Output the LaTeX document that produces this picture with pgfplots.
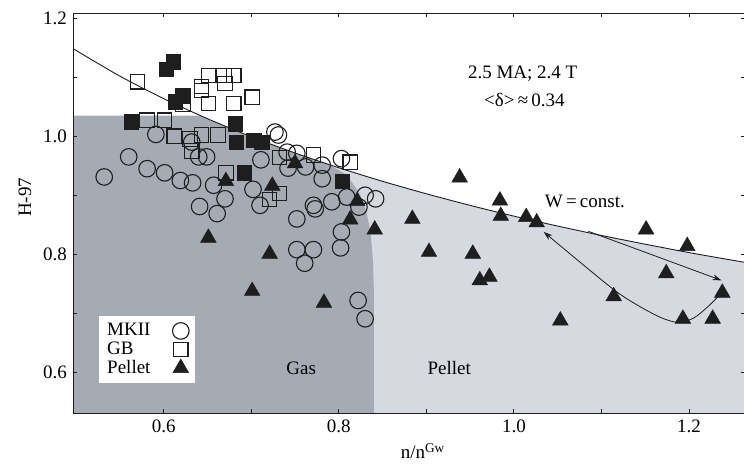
\documentclass[border=0pt]{standalone}
\usepackage{pgfplots}
\pgfplotsset{compat=1.18}
\usepackage{fontspec}
\setmainfont{Liberation Serif}
\usetikzlibrary{arrows.meta}
\definecolor{darkreg}{RGB}{166,171,179}
\definecolor{lightreg}{RGB}{214,217,224}
\definecolor{ink}{RGB}{30,30,30}
\begin{document}
\fontsize{19}{22}\selectfont
\begin{tikzpicture}
\useasboundingbox (-73.3pt,-54.7pt) rectangle (670.7pt,413.3pt);
\begin{axis}[
  scale only axis, width=672pt, height=400pt,
  xmin=0.4967, xmax=1.2643, ymin=0.531, ymax=1.208,
  axis on top,
  xtick={0.6,0.8,1.0,1.2}, minor xtick={0.7,0.9,1.1},
  ytick={0.6,0.8,1.0,1.2}, minor ytick={0.7,0.9,1.1},
  tick align=inside, major tick length=4pt, minor tick length=4pt,
  axis line style={line width=1.4pt, draw=ink},
  every tick/.style={draw=ink, line width=0.9pt},
  tick label style={font=\fontsize{19}{22}\selectfont},
  /pgf/number format/.cd, fixed, fixed zerofill, precision=1, assume math mode=true,
  /pgfplots/.cd,
  xlabel={n/n\textsuperscript{Gw}},
  ylabel={H-97},
  label style={font=\fontsize{19}{22}\selectfont},
  xlabel style={at={(axis description cs:0.52,0)}, anchor=north, yshift=-24pt},
  ylabel style={at={(axis description cs:-0.072,0.54)}, anchor=center},
  legend plot pos=right,
  legend cell align=left,
  legend style={at={(axis description cs:0.0383,0.243)}, anchor=north west,
    draw=none, fill=white, font=\fontsize{19}{21}\selectfont,
    inner xsep=6pt, inner ysep=5pt, row sep=-1pt, /tikz/column sep=20pt},
]
% light region below the W = const curve (right of the gas region)
\addplot[draw=none, fill=lightreg, forget plot] coordinates {
 (0.75,0.50) (0.75,0.9716) (0.8,0.9466) (0.85,0.9236) (0.9,0.9025) (0.95,0.8829)
 (1.0,0.8647) (1.05,0.8479) (1.1,0.832) (1.15,0.8172) (1.2,0.803) (1.25,0.790)
 (1.27,0.785) (1.27,0.50)} -- cycle;
% dark (gas) region
\addplot[draw=none, fill=darkreg, forget plot] coordinates {
 (0.49,0.50) (0.49,1.035) (0.642,1.035) (0.65,1.0296) (0.7,0.9991) (0.75,0.9716)
 (0.79,0.951) (0.805,0.938) (0.815,0.922) (0.824,0.902) (0.831,0.875) (0.836,0.84)
 (0.839,0.79) (0.840,0.74) (0.840,0.50)} -- cycle;
% W = const curve
\addplot[smooth, draw=ink, line width=0.9pt, forget plot] coordinates {
 (0.49,1.154) (0.5,1.145) (0.55,1.1016) (0.6,1.0635) (0.65,1.0296)
 (0.7,0.9991) (0.75,0.9716) (0.8,0.9466) (0.85,0.9236) (0.9,0.9025) (0.95,0.8829)
 (1.0,0.8647) (1.05,0.8479) (1.1,0.832) (1.15,0.8172) (1.2,0.803) (1.25,0.790)
 (1.27,0.785)};
% arrows
\addplot[smooth, draw=ink, line width=0.8pt, -{Stealth[length=9pt,width=6pt]}, forget plot] coordinates {
 (1.236,0.733) (1.222,0.712) (1.205,0.692) (1.187,0.685) (1.168,0.693)
 (1.140,0.715) (1.110,0.745) (1.034,0.838)};
\addplot[draw=ink, line width=0.8pt, -{Stealth[length=9pt,width=6pt]}, forget plot] coordinates {
 (1.085,0.839) (1.237,0.756)};
% MKII
\addplot[only marks, mark=o, mark size=8.3pt, mark options={draw=ink, line width=1.1pt}] coordinates {
 (0.532,0.931) (0.560,0.965) (0.591,1.003) (0.581,0.945) (0.601,0.938) (0.619,0.925)
 (0.633,0.921) (0.640,0.965) (0.649,0.965) (0.641,0.881) (0.632,0.990) (0.657,0.917)
 (0.670,0.894) (0.661,0.869) (0.702,0.910) (0.710,0.883) (0.711,0.960) (0.727,1.007)
 (0.731,1.002) (0.741,0.973) (0.752,0.971) (0.742,0.946) (0.762,0.948) (0.781,0.951)
 (0.781,0.928) (0.803,0.962) (0.752,0.860) (0.771,0.883) (0.773,0.877) (0.792,0.889)
 (0.809,0.897) (0.830,0.900) (0.842,0.894) (0.823,0.880) (0.803,0.838) (0.802,0.811)
 (0.752,0.808) (0.771,0.808) (0.761,0.785) (0.822,0.722) (0.830,0.691)};
\addlegendentry{MKII}
% GB open
\addplot[only marks, mark=square, mark size=7.2pt, mark options={draw=ink, line width=1.1pt}] coordinates {
 (0.570,1.092) (0.581,1.027) (0.601,1.027) (0.612,1.000) (0.630,0.995) (0.632,0.975)
 (0.643,1.002) (0.622,1.054) (0.651,1.103) (0.669,1.103) (0.680,1.103) (0.643,1.084)
 (0.643,1.077) (0.670,1.089) (0.651,1.055) (0.680,1.055) (0.662,1.002) (0.701,1.066)
 (0.732,0.964) (0.771,0.968) (0.813,0.956) (0.671,0.938) (0.732,0.903) (0.721,0.893)};
\addlegendentry{GB}
% GB filled
\addplot[only marks, mark=square*, mark size=7.2pt, mark options={draw=ink, fill=ink, line width=0.8pt}, forget plot] coordinates {
 (0.563,1.024) (0.611,1.126) (0.603,1.113) (0.622,1.068) (0.613,1.058) (0.682,1.021)
 (0.683,0.989) (0.703,0.993) (0.712,0.990) (0.692,0.938) (0.804,0.923)};
% Pellet
\addplot[only marks, mark=triangle*, mark size=9pt, mark options={draw=ink, fill=ink, line width=0.5pt}] coordinates {
 (0.651,0.828) (0.671,0.924) (0.724,0.916) (0.721,0.801) (0.701,0.738) (0.750,0.954)
 (0.783,0.718) (0.813,0.859) (0.821,0.890) (0.841,0.842) (0.884,0.860) (0.903,0.804)
 (0.938,0.930) (0.953,0.801) (0.961,0.756) (0.972,0.762) (0.984,0.891) (0.985,0.865)
 (1.014,0.863) (1.026,0.854) (1.053,0.688) (1.114,0.729) (1.151,0.842) (1.174,0.768)
 (1.193,0.691) (1.198,0.814) (1.227,0.691) (1.238,0.735)};
\addlegendentry{Pellet}
\node[font=\fontsize{19}{22}\selectfont] at (axis cs:1.010,1.105) {2.5 MA; 2.4 T};
\node[font=\fontsize{19}{22}\selectfont] at (axis cs:1.012,1.062) {<δ>\,≈\,0.34};
\node[font=\fontsize{19}{22}\selectfont, anchor=west] at (axis cs:1.028,0.889) {W\,=\,const.};
\node[font=\fontsize{19}{22}\selectfont] at (axis cs:0.757,0.607) {Gas};
\node[font=\fontsize{19}{22}\selectfont] at (axis cs:0.926,0.607) {Pellet};
\end{axis}
\end{tikzpicture}
\end{document}
